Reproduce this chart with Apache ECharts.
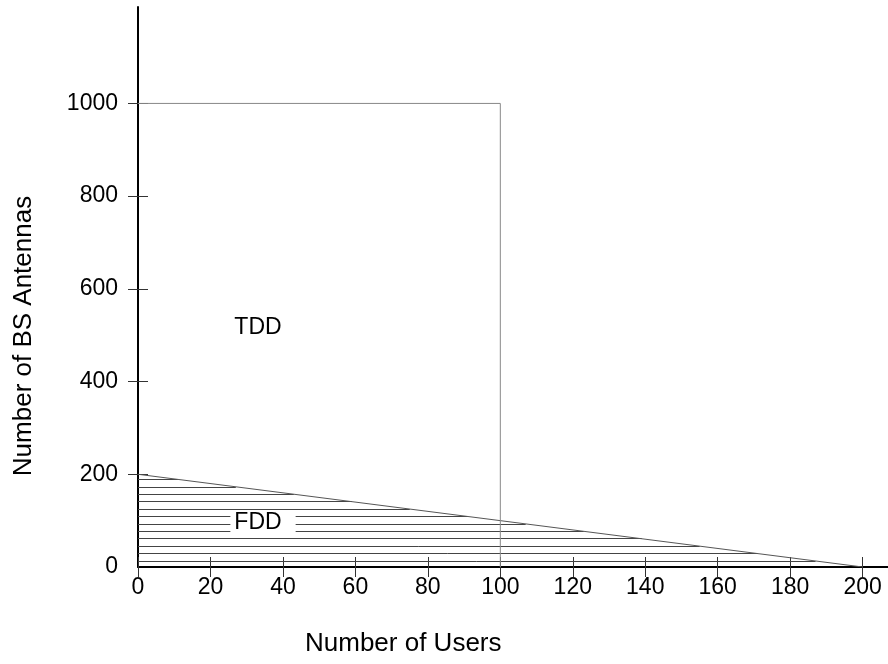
<!DOCTYPE html>
<html>
<head>
<meta charset="utf-8">
<script src="https://cdn.jsdelivr.net/npm/echarts@6/dist/echarts.min.js"></script>
<style>
html,body{margin:0;padding:0;background:#fff;}
#chart{width:888px;height:664px;}
</style>
</head>
<body>
<div id="chart"></div>
<script>
// ---- data ----
var xTicks = [0, 20, 40, 60, 80, 100, 120, 140, 160, 180, 200];
var yTicks = [0, 200, 400, 600, 800, 1000];
var tddBoundaryX = [0, 100, 100];
var tddBoundaryY = [1000, 1000, 0];
var fddBoundaryX = [0, 200];
var fddBoundaryY = [200, 0];
var hatchLevels = [13, 29, 45, 61, 77, 93, 109, 125, 141, 157, 173, 189];
var regionLabels = ['TDD', 'FDD'];
var regionLabelX = [34.5, 34.5];
var regionLabelY = [517, 95];
var xTitle = 'Number of Users';
var yTitle = 'Number of BS Antennas';

var FONT = 'Liberation Sans, Arial, sans-serif';
var GRID_W = 750, GRID_H = 560;

function zip(a, b) { return a.map(function (v, i) { return [v, b[i]]; }); }

// FDD boundary: y = 200 - x  -> hatch lines end where they meet it
var fddSlope = (fddBoundaryY[1] - fddBoundaryY[0]) / (fddBoundaryX[1] - fddBoundaryX[0]);
var hatchData = hatchLevels.map(function (y) {
  var xEnd = fddBoundaryX[0] + (y - fddBoundaryY[0]) / fddSlope;
  return { coords: [[0, y], [xEnd, y]] };
});

var baseX = {
  type: 'value', min: 0, max: 207,
  axisLine: { show: false, onZero: false },
  splitLine: { show: false },
  axisTick: { show: true, length: 10, customValues: xTicks, lineStyle: { color: '#333', width: 1 } },
  axisLabel: { show: false }
};
var baseY = {
  type: 'value', min: 0, max: 1208,
  axisLine: { show: false, onZero: false },
  splitLine: { show: false },
  axisTick: { show: true, length: 10, customValues: yTicks.slice(1), lineStyle: { color: '#333', width: 1 } },
  axisLabel: { show: false }
};

var chart = echarts.init(document.getElementById('chart'), null, { renderer: 'canvas' });
chart.setOption({
  animation: false,
  backgroundColor: '#fff',
  grid: { left: 138, top: 7, width: GRID_W, height: GRID_H, containLabel: false },
  xAxis: [
    Object.assign({}, baseX, {
      position: 'bottom',
      axisLine: { show: true, onZero: false, lineStyle: { color: '#000', width: 2 } },
      axisTick: { show: true, length: 10, customValues: xTicks, lineStyle: { color: '#333', width: 1 } },
      axisLabel: { show: true, customValues: xTicks, margin: 9, color: '#000', fontSize: 23, fontFamily: FONT }
    }),
    Object.assign({}, baseX, { position: 'top', offset: -GRID_H })
  ],
  yAxis: [
    Object.assign({}, baseY, {
      position: 'left',
      axisLine: { show: true, onZero: false, lineStyle: { color: '#000', width: 2 } },
      axisTick: { show: true, length: 10, customValues: yTicks.slice(1), lineStyle: { color: '#333', width: 1 } },
      axisLabel: {
        show: true, customValues: yTicks, margin: 20, color: '#000', fontSize: 23, fontFamily: FONT,
        formatter: function (v) { return String(v); }
      }
    }),
    Object.assign({}, baseY, { position: 'right', offset: -GRID_W })
  ],
  graphic: [
    {
      type: 'text', left: 305, top: 631, silent: true,
      style: { text: xTitle, fill: '#000', font: '26px ' + FONT }
    },
    {
      type: 'text', x: 24, y: 336, rotation: Math.PI / 2, silent: true,
      style: { text: yTitle, fill: '#000', font: '26px ' + FONT, align: 'center', verticalAlign: 'middle' }
    }
  ],
  series: [
    {
      type: 'lines', coordinateSystem: 'cartesian2d', xAxisIndex: 0, yAxisIndex: 0,
      polyline: false, silent: true, z: 2,
      lineStyle: { color: '#444', width: 1, opacity: 1 },
      data: hatchData
    },
    {
      type: 'line', xAxisIndex: 0, yAxisIndex: 0, silent: true, z: 3,
      data: zip(fddBoundaryX, fddBoundaryY), showSymbol: false, symbol: 'none',
      lineStyle: { color: '#555', width: 1 }
    },
    {
      type: 'line', xAxisIndex: 0, yAxisIndex: 0, silent: true, z: 3,
      data: zip(tddBoundaryX, tddBoundaryY), showSymbol: false, symbol: 'none',
      lineStyle: { color: '#888', width: 1 }
    },
    {
      type: 'scatter', xAxisIndex: 0, yAxisIndex: 0, silent: true, z: 5,
      symbolSize: 0, itemStyle: { opacity: 1 },
      data: regionLabels.map(function (t, i) { return { name: t, value: [regionLabelX[i], regionLabelY[i]] }; }),
      label: {
        show: true, position: 'inside', formatter: '{b}',
        color: '#000', fontSize: 23, fontFamily: FONT, opacity: 1,
        backgroundColor: '#fff', padding: [2, 14, 0, 4]
      }
    }
  ]
});
</script>
</body>
</html>
